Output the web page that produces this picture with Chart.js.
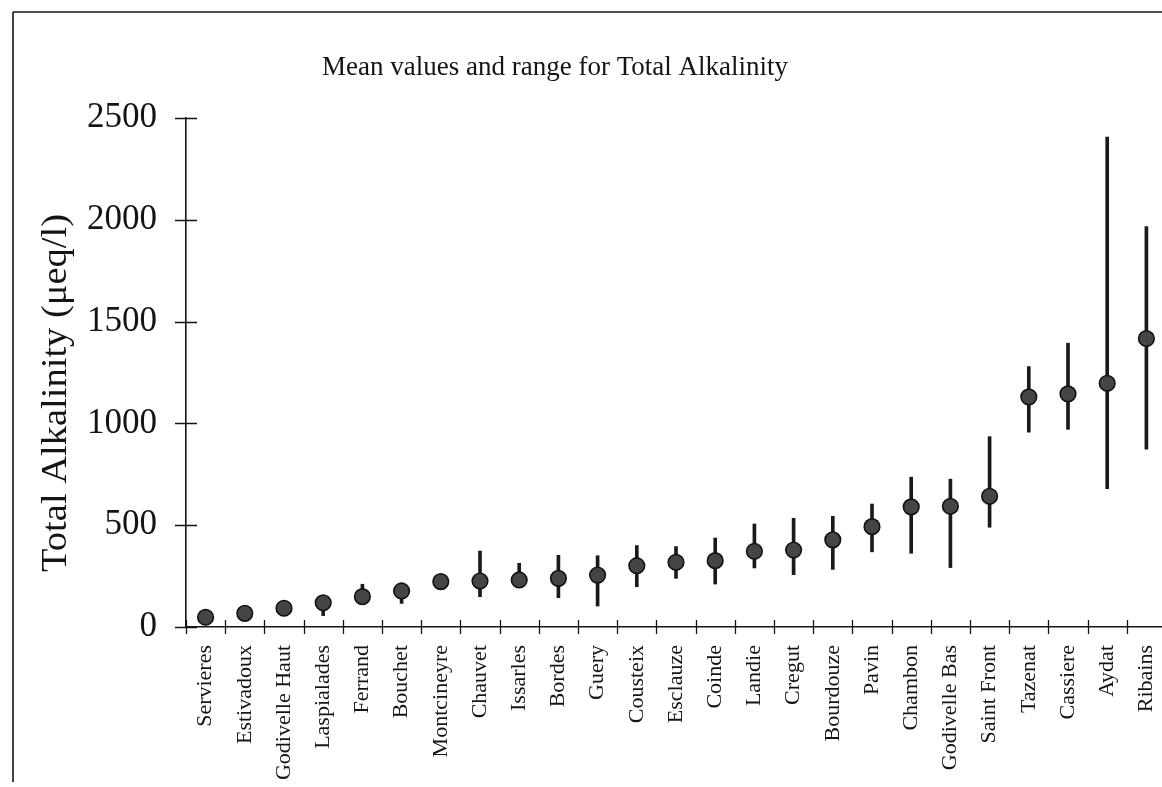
<!DOCTYPE html>
<html>
<head>
<meta charset="utf-8">
<script src="https://cdn.jsdelivr.net/npm/chart.js@4.4.1/dist/chart.umd.min.js"></script>
<style>
  html, body { margin: 0; padding: 0; background: #fff; overflow: hidden; }
  #wrap { position: relative; width: 1180px; height: 787px; }
</style>
</head>
<body>
<div id="wrap"><canvas id="c" width="1180" height="787"></canvas></div>
<script>
// Lakes, ordered by mean total alkalinity (µeq/l)
const lakes = [
  'Servieres', 'Estivadoux', 'Godivelle Haut', 'Laspialades', 'Ferrand',
  'Bouchet', 'Montcineyre', 'Chauvet', 'Issarles', 'Bordes', 'Guery',
  'Cousteix', 'Esclauze', 'Coinde', 'Landie', 'Cregut', 'Bourdouze',
  'Pavin', 'Chambon', 'Godivelle Bas', 'Saint Front', 'Tazenat',
  'Cassiere', 'Aydat', 'Ribains'
];
const meanValues = [
  48, 67, 92, 119, 149, 177, 223, 226, 231, 239, 255, 301, 318, 326,
  372, 378, 428, 493, 590, 593, 642, 1130, 1145, 1197, 1417
];
const minValues = [
  32, 52, 76, 56, 111, 116, 205, 149, 195, 144, 103, 198, 239, 211,
  290, 257, 283, 369, 362, 292, 490, 957, 971, 680, 873
];
const maxValues = [
  62, 82, 108, 140, 210, 205, 242, 373, 313, 352, 350, 400, 395, 437,
  506, 534, 544, 604, 736, 726, 935, 1279, 1394, 2406, 1967
];
const yTickValues = [0, 500, 1000, 1500, 2000, 2500];

const chartTitle = 'Mean values and range for Total Alkalinity';
const yAxisTitle = 'Total Alkalinity (\u03bceq/l)';

const SERIF = '"Liberation Serif", "Times New Roman", serif';
const INK = '#141414';

// Frame, titles and the cross-shaped tick marks on both axes
const decorations = {
  id: 'decorations',
  afterDraw(chart) {
    const ctx = chart.ctx;
    const xs = chart.scales.x;
    const ys = chart.scales.y;
    ctx.save();
    ctx.strokeStyle = INK;
    ctx.fillStyle = INK;

    // outer frame (left and top edges)
    ctx.lineWidth = 1.6;
    ctx.beginPath();
    ctx.moveTo(13, 12); ctx.lineTo(13, 782);
    ctx.moveTo(13, 12); ctx.lineTo(chart.width, 12);
    ctx.stroke();

    // y tick marks crossing the axis
    ctx.lineWidth = 1.3;
    ctx.beginPath();
    yTickValues.forEach(v => {
      const y = Math.round(ys.getPixelForValue(v)) + 0.5;
      ctx.moveTo(ys.right - 11, y);
      ctx.lineTo(ys.right + 11, y);
    });
    ctx.stroke();

    // x tick marks at category boundaries
    const step = xs.getPixelForValue(1) - xs.getPixelForValue(0);
    const base = xs.top;
    ctx.beginPath();
    for (let i = 0; i <= lakes.length; i++) {
      const x = Math.round(xs.getPixelForValue(i) - step / 2) + 0.5;
      ctx.moveTo(x, base - 7);
      ctx.lineTo(x, base + 7);
    }
    ctx.stroke();

    // chart title
    ctx.font = '27px ' + SERIF;
    ctx.textAlign = 'center';
    ctx.textBaseline = 'alphabetic';
    ctx.fillText(chartTitle, 555, 75);

    // y axis title, slightly elongated along its reading direction
    ctx.translate(57, 393);
    ctx.rotate(-Math.PI / 2);
    ctx.scale(1.1, 1);
    ctx.font = '35px ' + SERIF;
    ctx.textBaseline = 'middle';
    ctx.fillText(yAxisTitle, 0, 0);
    ctx.restore();
  }
};

new Chart(document.getElementById('c'), {
  type: 'bar',
  data: {
    labels: lakes,
    datasets: [
      {
        type: 'line',
        label: 'Mean',
        data: meanValues,
        showLine: false,
        pointRadius: 7.8,
        pointHoverRadius: 7.8,
        pointBackgroundColor: '#454545',
        pointBorderColor: '#121212',
        pointBorderWidth: 1.6,
        order: 0
      },
      {
        label: 'Range',
        data: lakes.map((_, i) => [minValues[i], maxValues[i]]),
        backgroundColor: '#1a1a1a',
        borderWidth: 0,
        barThickness: 3,
        order: 1
      }
    ]
  },
  options: {
    responsive: false,
    animation: false,
    devicePixelRatio: 1,
    layout: { padding: { top: 118, right: 14, left: 0, bottom: 0 } },
    plugins: {
      legend: { display: false },
      title: { display: false },
      tooltip: { enabled: false }
    },
    scales: {
      x: {
        type: 'category',
        offset: true,
        grid: { display: false, drawTicks: false },
        border: { display: true, color: INK, width: 1.6 },
        ticks: {
          autoSkip: false,
          maxRotation: 90,
          minRotation: 90,
          padding: 18,
          color: INK,
          font: { family: SERIF, size: 22 }
        },
        afterFit(scale) {
          scale.height = 160;
          scale.paddingLeft = 0;
          scale.paddingRight = 0;
        }
      },
      y: {
        min: 0,
        max: 2500,
        afterBuildTicks(scale) {
          scale.ticks = yTickValues.map(v => ({ value: v }));
        },
        grid: { display: false, drawTicks: false },
        border: { display: true, color: INK, width: 1.6 },
        ticks: {
          padding: 29,
          color: INK,
          font: { family: SERIF, size: 35 },
          callback: v => String(v)
        },
        afterFit(scale) { scale.width = 186; }
      }
    }
  },
  plugins: [decorations]
});
</script>
</body>
</html>
